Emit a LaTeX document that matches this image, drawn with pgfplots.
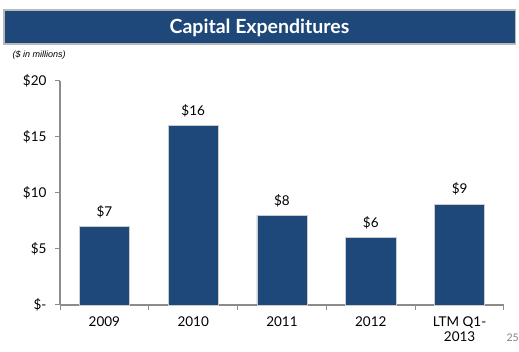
\documentclass[border=0pt]{standalone}
\usepackage{fontspec}
\setmainfont{Lato}
\newfontfamily\arialf{Liberation Sans}
\usepackage{pgfplots}
\pgfplotsset{compat=1.18}
\definecolor{navy}{HTML}{1F487A}
\definecolor{axgray}{HTML}{8C8C8C}
\begin{document}
\begin{tikzpicture}[x=1pt,y=1pt]
\path[use as bounding box] (0,0) rectangle (519,352);
\fill[gray!55] (3,307) rectangle (516,342.5);
\fill[navy] (4.5,308.5) rectangle (514.5,341);
\node[text=white,font=\fontsize{19.5}{22}\selectfont\bfseries] at (259.5,324.5) {Capital Expenditures};
\node[anchor=west,font=\arialf\itshape\fontsize{9}{11}\selectfont] at (9,297) {(\$ in millions)};
\node[text=gray,font=\fontsize{10.5}{12}\selectfont,anchor=west] at (503,14) {25};
\begin{axis}[
  at={(60pt,47pt)}, anchor=south west,
  scale only axis, width=444pt, height=224pt,
  xmin=-0.5, xmax=4.5, ymin=0, ymax=20,
  axis x line*=bottom, axis y line*=left,
  axis line style={axgray, line width=1.3pt, -},
  /pgf/number format/assume math mode=true,
  ytick={0,5,10,15,20},
  yticklabels={\$-,\$5,\$10,\$15,\$20},
  xtick={0,1,2,3,4},
  xticklabels={2009,2010,2011,2012,{LTM Q1-\\2013}},
  minor xtick={-0.5,0.5,1.5,2.5,3.5,4.5},
  major x tick style={draw=none},
  minor x tick style={axgray, line width=1pt},
  y tick style={axgray, line width=1pt},
  tick align=outside,
  major tick length=5pt, minor tick length=5pt,
  xticklabel style={align=center, font=\fontsize{13.5}{15}\selectfont, yshift=-3pt},
  yticklabel style={font=\fontsize{13.5}{15}\selectfont, xshift=-5pt},
  ybar, bar width=50pt,
  nodes near coords={\$\pgfmathprintnumber{\pgfplotspointmeta}},
  every node near coord/.append style={font=\fontsize{13.5}{15}\selectfont, yshift=5pt},
  clip=false,
]
\addplot[fill=navy, draw=gray!40, line width=0.6pt] coordinates {(0,7) (1,16) (2,8) (3,6) (4,9)};
\end{axis}
\end{tikzpicture}
\end{document}
